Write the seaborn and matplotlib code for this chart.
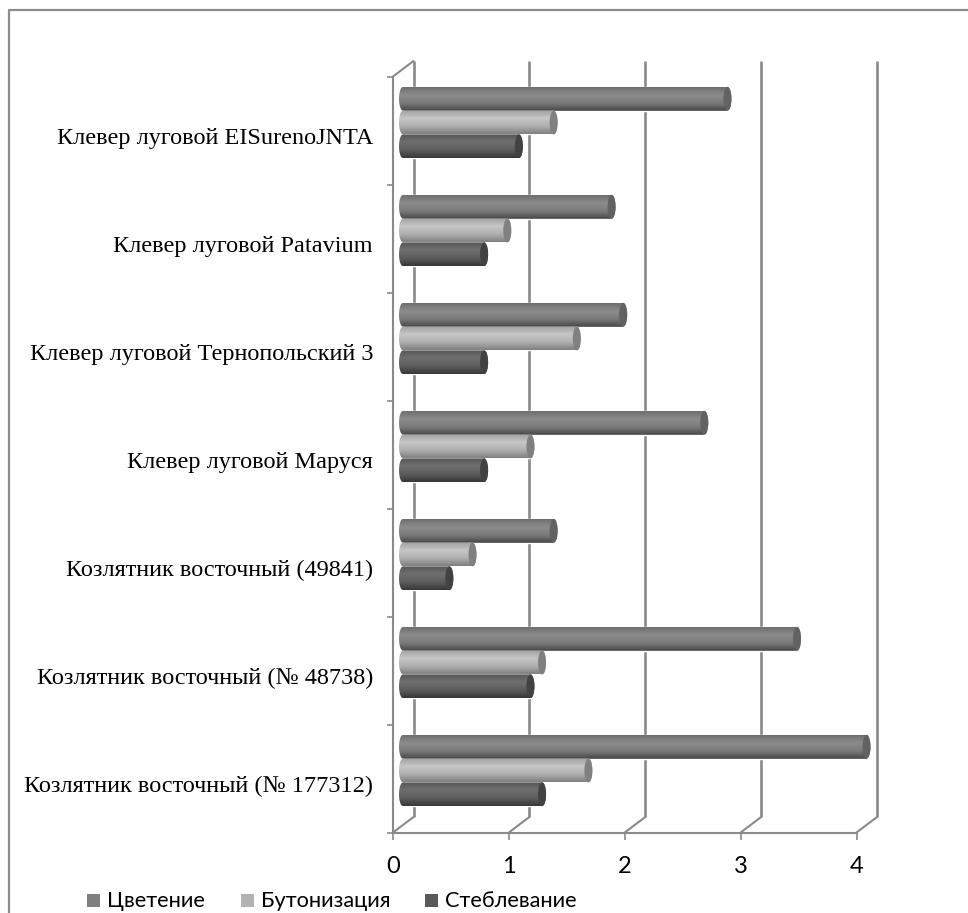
import numpy as np
import pandas as pd
import seaborn as sns
import matplotlib.pyplot as plt
from matplotlib.lines import Line2D
from matplotlib.patches import Ellipse, PathPatch, Rectangle
from matplotlib.path import Path
from matplotlib.colors import LinearSegmentedColormap
from matplotlib.transforms import offset_copy

W, H = 968, 913

categories = ['Клевер луговой EISurenoJNTA', 'Клевер луговой Patavium',
              'Клевер луговой Тернопольский 3', 'Клевер луговой Маруся',
              'Козлятник восточный (49841)', 'Козлятник восточный (№ 48738)',
              'Козлятник восточный (№ 177312)']
stages = ['Цветение', 'Бутонизация', 'Стеблевание']
flowering = [2.8, 1.8, 1.9, 2.6, 1.3, 3.4, 4.0]
budding = [1.3, 0.9, 1.5, 1.1, 0.6, 1.2, 1.6]
stemming = [1.0, 0.7, 0.7, 0.7, 0.4, 1.1, 1.2]

legend_colors = ['#7f7f7f', '#b2b2b2', '#595959']
ramps = [['#6f6f6f', '#8c8c8c', '#7a7a7a', '#484848'],
         ['#a0a0a0', '#c6c6c6', '#b0b0b0', '#808080'],
         ['#575757', '#6f6f6f', '#5c5c5c', '#383838']]
cap_colors = ['#626262', '#808080', '#424242']
line_color = '#8a8a8a'

df = pd.DataFrame({'sort': categories, 'Цветение': flowering,
                   'Бутонизация': budding, 'Стеблевание': stemming})
df = df.melt(id_vars='sort', var_name='stage', value_name='value')

sns.set_style('white')
plt.rcParams['font.family'] = ['Lato', 'DejaVu Sans']

fig = plt.figure(figsize=(W / 100, H / 100), dpi=100)
ax = fig.add_axes([393 / W, 1 - 832.5 / H, (856.5 - 393) / W, (832.5 - 76.5) / H])

unit_x = (856.5 - 393) / 4
unit_y = (832.5 - 76.5) / 7
start = 10 / unit_x

sns.barplot(data=df, y='sort', x='value', hue='stage', order=categories,
            hue_order=stages, palette=legend_colors, width=0.66, gap=0,
            left=start, legend=False, ax=ax, zorder=3)

ax.set_xlim(0, 4)
ax.set_ylim(6.5, -0.5)

# floor and back wall of the fake 3d box
back = offset_copy(ax.transData, fig=fig, x=20.5, y=15.5, units='dots')
bot, top = 6.5, -0.5
for v in range(5):
    ax.plot([v, v], [bot, top], color=line_color, lw=1.9, transform=back,
            clip_on=False, zorder=1, solid_capstyle='butt')
    ax.plot([v, v + 20.5 / unit_x], [bot, bot - 15.5 / unit_y], color=line_color,
            lw=1.5, clip_on=False, zorder=1)
ax.plot([0, 20.5 / unit_x], [top, top - 15.5 / unit_y], color=line_color, lw=1.5,
        clip_on=False, zorder=1)

# cylinder look on top of the seaborn bars
rx = 4 / unit_x
shift = 8 / unit_y
n = len(categories)
for i, p in enumerate(list(ax.patches)):
    s = i // n
    y0 = p.get_y() - shift
    p.set_y(y0)
    p.set_clip_on(False)
    x0, w, h = p.get_x(), p.get_width(), p.get_height()
    x1 = x0 + w
    yc = y0 + h / 2
    t = np.linspace(np.pi / 2, 3 * np.pi / 2, 20)
    left_edge = np.c_[x0 + rx * np.cos(t), yc + h / 2 * np.sin(t)]
    right_edge = np.c_[x1 - rx * np.cos(t), yc - h / 2 * np.sin(t)]
    outline = Path(np.r_[left_edge, right_edge, left_edge[:1]])
    cmap = LinearSegmentedColormap.from_list('c', ramps[s])
    grad = np.linspace(0, 1, 64)[:, None]
    im = ax.imshow(grad, cmap=cmap, aspect='auto', zorder=3.1,
                   extent=(x0 - rx, x1 + rx, y0 + h, y0))
    clip = PathPatch(outline, transform=ax.transData, fc='none', ec='none', clip_on=False)
    ax.add_patch(clip)
    im.set_clip_box(fig.bbox)
    im.set_clip_path(clip)
    ax.add_patch(Ellipse((x1, yc), 2 * rx, h, fc=cap_colors[s], ec='none', zorder=3.2,
                         clip_on=False))

ax.set_xlim(0, 4)
ax.set_ylim(6.5, -0.5)

for side in ['top', 'right']:
    ax.spines[side].set_visible(False)
for side in ['left', 'bottom']:
    ax.spines[side].set_color(line_color)
    ax.spines[side].set_linewidth(1.5)
ax.patch.set_alpha(0)
ax.set_xlabel('')
ax.set_ylabel('')

ax.set_xticks(range(5))
ax.tick_params(axis='x', length=5, width=1.2, color=line_color, pad=12,
               labelsize=17, labelcolor='black', bottom=True)
ax.set_yticks(np.arange(-0.5, 7, 1))
ax.set_yticklabels([])
ax.tick_params(axis='y', which='major', length=4, width=1.2, color=line_color, left=True)
ax.set_yticks(np.arange(n) + 0.05, minor=True)
ax.set_yticklabels(categories, minor=True, family='Liberation Serif', fontsize=17.5,
                   color='black')
ax.tick_params(axis='y', which='minor', length=0, pad=14.4)

# frame, only top and left are in the crop
fig.add_artist(Line2D([8.5 / W, 8.5 / W, 1], [0, 1 - 10.5 / H, 1 - 10.5 / H],
                      color='#8c8c8c', lw=1.6))

legend_x = [87, 241, 425]
for lx, name, c in zip(legend_x, stages, legend_colors):
    fig.add_artist(Rectangle((lx / W, 1 - 907 / H), 13 / W, 13 / H, fc=c, ec='none',
                             transform=fig.transFigure))
    fig.text((lx + 20) / W, 1 - 901 / H, name, fontsize=15.7, va='center', ha='left',
             color='black')

fig.savefig('out.png', dpi=100, facecolor='white')
